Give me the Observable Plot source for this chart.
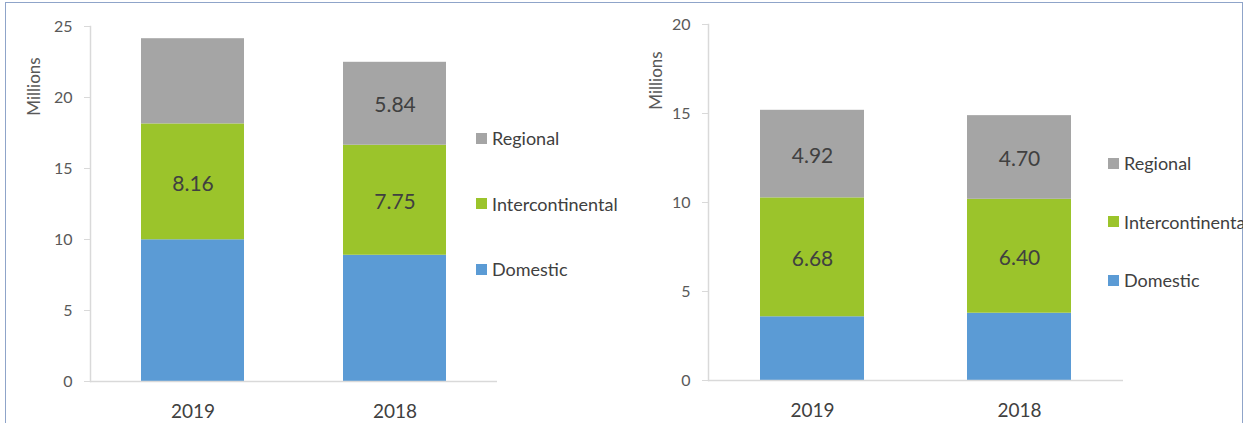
<!DOCTYPE html>
<html><head><meta charset="utf-8">
<script src="https://cdn.jsdelivr.net/npm/d3@7"></script>
<script src="https://cdn.jsdelivr.net/npm/@observablehq/plot@0.6"></script>
<style>
body{margin:0;background:#fff;}
#root{position:relative;width:1249px;height:423px;overflow:hidden;font-family:Lato,"Open Sans",sans-serif;background:#fff;}
#frame{position:absolute;left:5px;top:2px;width:1236px;height:460px;border:1.5px solid #8fa4c9;pointer-events:none;}
.panel{position:absolute;top:0;}
.legend{position:absolute;top:0;height:423px;overflow:hidden;}
.item{position:absolute;left:0;height:20px;display:flex;align-items:center;white-space:nowrap;font-size:18px;color:#404040;}
.sw{width:11px;height:11px;margin-right:5px;flex:none;}
</style></head><body>
<div id="root"><div id="frame"></div></div>
<script>
// ---- data ----
const years = ["2019", "2018"];
const seriesNames = ["Domestic", "Intercontinental", "Regional"];
const seriesColors = ["#5b9bd5", "#9bc42b", "#a5a5a5"];

// left panel (millions)
const leftDomestic = [9.98, 8.89];
const leftIntercontinental = [8.16, 7.75];
const leftRegional = [6.00, 5.84];
const leftDomesticLabels = ["", ""];
const leftIntercontinentalLabels = ["8.16", "7.75"];
const leftRegionalLabels = ["", "5.84"];
const leftYTicks = [0, 5, 10, 15, 20, 25];

// right panel (millions)
const rightDomestic = [3.58, 3.78];
const rightIntercontinental = [6.68, 6.40];
const rightRegional = [4.92, 4.70];
const rightDomesticLabels = ["", ""];
const rightIntercontinentalLabels = ["6.68", "6.40"];
const rightRegionalLabels = ["4.92", "4.70"];
const rightYTicks = [0, 5, 10, 15, 20];

const axisLabel = "Millions";

function buildRows(values, labels) {
  const rows = [];
  years.forEach((yr, i) => {
    seriesNames.forEach((s, j) => {
      rows.push({year: yr, series: s, value: values[j][i], label: labels[j][i]});
    });
  });
  return rows;
}

function makePanel(cfg) {
  const rows = buildRows(cfg.values, cfg.labels);
  return Plot.plot({
    width: cfg.width,
    height: 423,
    marginLeft: cfg.marginLeft,
    marginRight: cfg.marginRight,
    marginTop: cfg.marginTop,
    marginBottom: cfg.marginBottom,
    style: {fontFamily: "Lato, 'Open Sans', sans-serif", background: "transparent", overflow: "visible"},
    x: {domain: years, paddingInner: cfg.paddingInner, paddingOuter: cfg.paddingOuter, label: null},
    y: {domain: [0, cfg.yTicks[cfg.yTicks.length - 1]], label: null},
    color: {domain: seriesNames, range: seriesColors},
    marks: [
      Plot.barY(rows, {x: "year", y: "value", z: "series", fill: "series"}),
      Plot.text(rows, Plot.stackY({x: "year", y: "value", z: "series", text: "label", fontSize: 21, fill: "#404040", dy: 2})),
      Plot.ruleY([0], {stroke: "#d9d9d9", strokeWidth: 1.5}),
      Plot.frame({anchor: "left", stroke: "#d9d9d9", strokeWidth: 1.5}),
      Plot.axisY({ticks: cfg.yTicks, tickSize: 6, tickPadding: 12, stroke: "#d9d9d9", fill: "#595959", fontSize: 16, label: null}),
      Plot.axisX({tickSize: 0, tickPadding: 23, fill: "#404040", fontSize: 19, label: null}),
      Plot.text([axisLabel], {frameAnchor: "top-left", textAnchor: "middle", lineAnchor: "middle", rotate: -90, dx: cfg.labelDx, dy: cfg.labelDy, fontSize: 17, fill: "#595959"})
    ]
  });
}

function makeLegend(left, firstCenter, spacing, width) {
  const lg = document.createElement("div");
  lg.className = "legend";
  lg.style.left = left + "px";
  lg.style.width = width + "px";
  const order = seriesNames.slice().reverse();
  order.forEach((s, i) => {
    const it = document.createElement("div");
    it.className = "item";
    it.style.top = (firstCenter + i * spacing - 10) + "px";
    const sw = document.createElement("span");
    sw.className = "sw";
    sw.style.background = seriesColors[seriesNames.indexOf(s)];
    const tx = document.createElement("span");
    tx.textContent = s;
    it.appendChild(sw); it.appendChild(tx);
    lg.appendChild(it);
  });
  return lg;
}

const root = document.getElementById("root");

const leftChart = makePanel({
  values: [leftDomestic, leftIntercontinental, leftRegional],
  labels: [leftDomesticLabels, leftIntercontinentalLabels, leftRegionalLabels],
  yTicks: leftYTicks,
  width: 520, marginLeft: 90, marginRight: 23, marginTop: 26, marginBottom: 42,
  paddingInner: 0.49, paddingOuter: 0.25,
  labelDx: -56, labelDy: 60
});
const lw = document.createElement("div");
lw.className = "panel"; lw.style.left = "0px";
lw.appendChild(leftChart);
root.appendChild(lw);
root.appendChild(makeLegend(476, 138, 65.5, 180));

const rightChart = makePanel({
  values: [rightDomestic, rightIntercontinental, rightRegional],
  labels: [rightDomesticLabels, rightIntercontinentalLabels, rightRegionalLabels],
  yTicks: rightYTicks,
  width: 520, marginLeft: 88, marginRight: 17, marginTop: 24, marginBottom: 43,
  paddingInner: 0.5, paddingOuter: 0.25,
  labelDx: -52, labelDy: 56
});
const rw = document.createElement("div");
rw.className = "panel"; rw.style.left = "620px";
rw.appendChild(rightChart);
root.appendChild(rw);
root.appendChild(makeLegend(1108, 163, 58.5, 135));
</script>
</body></html>
